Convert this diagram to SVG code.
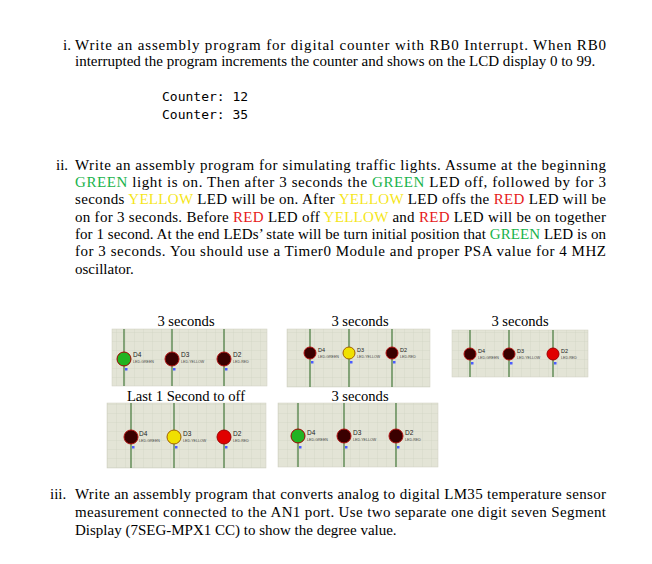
<svg xmlns="http://www.w3.org/2000/svg" width="652" height="564" viewBox="0 0 652 564">
<style>
.t{font-family:"Liberation Serif",serif;font-size:15px;fill:#000}
.m{font-family:"DejaVu Sans Mono","Liberation Mono",monospace;font-size:13px;fill:#000}
.cap{font-family:"Liberation Serif",serif;font-size:14.6px;fill:#000;text-anchor:middle}
.g{fill:#19b34b}.y{fill:#f5e61a}.r{fill:#e61919}
.pn{fill:url(#grid);stroke:#cfcfc0;stroke-width:0.5}
.w{stroke:#4f7f44;stroke-width:1.3}
.dl{font-family:"Liberation Sans",sans-serif;font-size:6.5px;fill:#222}
.sl{font-family:"Liberation Sans",sans-serif;font-size:3.6px;fill:#444}
.off{fill:#3a0000;stroke:#b01010;stroke-width:1}
.onr{fill:#e00000;stroke:#a00000;stroke-width:1}
.ong{fill:#22b322;stroke:#a00000;stroke-width:1}
.ony{fill:#f0e000;stroke:#a06000;stroke-width:1}
.pin{fill:#4a5cff}
</style>
<defs>
<pattern id="grid" width="9" height="9" patternUnits="userSpaceOnUse">
<rect width="9" height="9" fill="#e3e4d6"/>
<path d="M9 0V9M0 9H9" stroke="#cdcebf" stroke-width="0.6"/>
</pattern>
</defs>
<rect width="652" height="564" fill="#fff"/>
<g id="q1">
<text class="t" x="63" y="50">i.</text>
<text class="t" x="75" y="50" textLength="531" lengthAdjust="spacing">Write an assembly program for digital counter with RB0 Interrupt. When RB0</text>
<text class="t" x="75" y="66">interrupted the program increments the counter and shows on the LCD display 0 to 99.</text>
<text class="m" x="162" y="101">Counter: 12</text>
<text class="m" x="162" y="119">Counter: 35</text>
</g>
<g id="q2">
<text class="t" x="56" y="170">ii.</text>
<text class="t" x="75" y="170" textLength="531" lengthAdjust="spacing">Write an assembly program for simulating traffic lights. Assume at the beginning</text>
<text class="t" x="75" y="187" textLength="531" lengthAdjust="spacing"><tspan class="g">GREEN</tspan> light is on. Then after 3 seconds the <tspan class="g">GREEN</tspan> LED off, followed by for 3</text>
<text class="t" x="75" y="204" textLength="531" lengthAdjust="spacing">seconds <tspan class="y">YELLOW</tspan> LED will be on. After <tspan class="y">YELLOW</tspan> LED offs the <tspan class="r">RED</tspan> LED will be</text>
<text class="t" x="75" y="222" textLength="531" lengthAdjust="spacing">on for 3 seconds. Before <tspan class="r">RED</tspan> LED off <tspan class="y">YELLOW</tspan> and <tspan class="r">RED</tspan> LED will be on together</text>
<text class="t" x="75" y="239" textLength="531" lengthAdjust="spacing">for 1 second. At the end LEDs’ state will be turn initial position that <tspan class="g">GREEN</tspan> LED is on</text>
<text class="t" x="75" y="256" textLength="531" lengthAdjust="spacing">for 3 seconds. You should use a Timer0 Module and proper PSA value for 4 MHZ</text>
<text class="t" x="75" y="274">oscillator.</text>
</g>
<g id="panel1">
<text class="cap" x="186" y="326">3 seconds</text>
<rect class="pn" x="112" y="329" width="155" height="57"/>
<line class="w" x1="124" y1="329" x2="124" y2="386"/><line class="w" x1="172" y1="329" x2="172" y2="386"/><line class="w" x1="224" y1="329" x2="224" y2="386"/>
<circle class="ong" cx="124" cy="359" r="7"/><circle class="off" cx="172" cy="359" r="7"/><circle class="off" cx="224" cy="359" r="7"/>
<rect class="pin" x="125" y="368" width="2.5" height="2.5"/><rect class="pin" x="173" y="368" width="2.5" height="2.5"/><rect class="pin" x="225" y="368" width="2.5" height="2.5"/>
<text class="dl" x="133" y="357">D4</text><text class="sl" x="133" y="363">LED-GREEN</text>
<text class="dl" x="181" y="357">D3</text><text class="sl" x="181" y="363">LED-YELLOW</text>
<text class="dl" x="233" y="357">D2</text><text class="sl" x="233" y="363">LED-RED</text>
</g>
<g id="panel2">
<text class="cap" x="360" y="326">3 seconds</text>
<rect class="pn" x="287" y="329" width="143" height="58"/>
<line class="w" x1="310" y1="329" x2="310" y2="387"/><line class="w" x1="349" y1="329" x2="349" y2="387"/><line class="w" x1="392" y1="329" x2="392" y2="387"/>
<circle class="off" cx="310" cy="353" r="6"/><circle class="ony" cx="349" cy="353" r="6"/><circle class="off" cx="392" cy="353" r="6"/>
<rect class="pin" x="311" y="361" width="2.5" height="2.5"/><rect class="pin" x="350" y="361" width="2.5" height="2.5"/><rect class="pin" x="393" y="361" width="2.5" height="2.5"/>
<text class="dl" x="318" y="352" style="font-size:5.5px">D4</text><text class="sl" x="318" y="358">LED-GREEN</text>
<text class="dl" x="357" y="352" style="font-size:5.5px">D3</text><text class="sl" x="357" y="358">LED-YELLOW</text>
<text class="dl" x="400" y="352" style="font-size:5.5px">D2</text><text class="sl" x="400" y="358">LED-RED</text>
</g>
<g id="panel3">
<text class="cap" x="520" y="326">3 seconds</text>
<rect class="pn" x="452" y="330" width="136" height="47"/>
<line class="w" x1="470" y1="330" x2="470" y2="377"/><line class="w" x1="509" y1="330" x2="509" y2="377"/><line class="w" x1="553" y1="330" x2="553" y2="377"/>
<circle class="off" cx="470" cy="354" r="6"/><circle class="off" cx="509" cy="354" r="6"/><circle class="onr" cx="553" cy="354" r="6"/>
<rect class="pin" x="471" y="362" width="2.5" height="2.5"/><rect class="pin" x="510" y="362" width="2.5" height="2.5"/><rect class="pin" x="554" y="362" width="2.5" height="2.5"/>
<text class="dl" x="478" y="353" style="font-size:5.5px">D4</text><text class="sl" x="478" y="359">LED-GREEN</text>
<text class="dl" x="517" y="353" style="font-size:5.5px">D3</text><text class="sl" x="517" y="359">LED-YELLOW</text>
<text class="dl" x="561" y="353" style="font-size:5.5px">D2</text><text class="sl" x="561" y="359">LED-RED</text>
</g>
<g id="panel4">
<text class="cap" x="186" y="401">Last 1 Second to off</text>
<rect class="pn" x="107" y="403" width="159" height="65"/>
<line class="w" x1="131" y1="403" x2="131" y2="468"/><line class="w" x1="174" y1="403" x2="174" y2="468"/><line class="w" x1="224" y1="403" x2="224" y2="468"/>
<circle class="off" cx="131" cy="437" r="7"/><circle class="ony" cx="174" cy="437" r="7"/><circle class="onr" cx="224" cy="437" r="7"/>
<rect class="pin" x="132" y="446" width="2.5" height="2.5"/><rect class="pin" x="175" y="446" width="2.5" height="2.5"/><rect class="pin" x="225" y="446" width="2.5" height="2.5"/>
<text class="dl" x="139" y="436">D4</text><text class="sl" x="139" y="442">LED-GREEN</text>
<text class="dl" x="183" y="436">D3</text><text class="sl" x="183" y="442">LED-YELLOW</text>
<text class="dl" x="233" y="436">D2</text><text class="sl" x="233" y="442">LED-RED</text>
</g>
<g id="panel5">
<text class="cap" x="360" y="401">3 seconds</text>
<rect class="pn" x="278" y="403" width="160" height="64"/>
<line class="w" x1="298" y1="403" x2="298" y2="467"/><line class="w" x1="344" y1="403" x2="344" y2="467"/><line class="w" x1="396" y1="403" x2="396" y2="467"/>
<circle class="ong" cx="298" cy="436" r="7"/><circle class="off" cx="344" cy="436" r="7"/><circle class="off" cx="396" cy="436" r="7"/>
<rect class="pin" x="299" y="446" width="2.5" height="2.5"/><rect class="pin" x="345" y="446" width="2.5" height="2.5"/><rect class="pin" x="397" y="446" width="2.5" height="2.5"/>
<text class="dl" x="307" y="435">D4</text><text class="sl" x="307" y="441">LED-GREEN</text>
<text class="dl" x="353" y="435">D3</text><text class="sl" x="353" y="441">LED-YELLOW</text>
<text class="dl" x="405" y="435">D2</text><text class="sl" x="405" y="441">LED-RED</text>
</g>
<g id="q3">
<text class="t" x="50" y="499">iii.</text>
<text class="t" x="75" y="499" textLength="531" lengthAdjust="spacing">Write an assembly program that converts analog to digital LM35 temperature sensor</text>
<text class="t" x="75" y="517" textLength="531" lengthAdjust="spacing">measurement connected to the AN1 port. Use two separate one digit seven Segment</text>
<text class="t" x="75" y="535">Display (7SEG-MPX1 CC) to show the degree value.</text>
</g>
</svg>
